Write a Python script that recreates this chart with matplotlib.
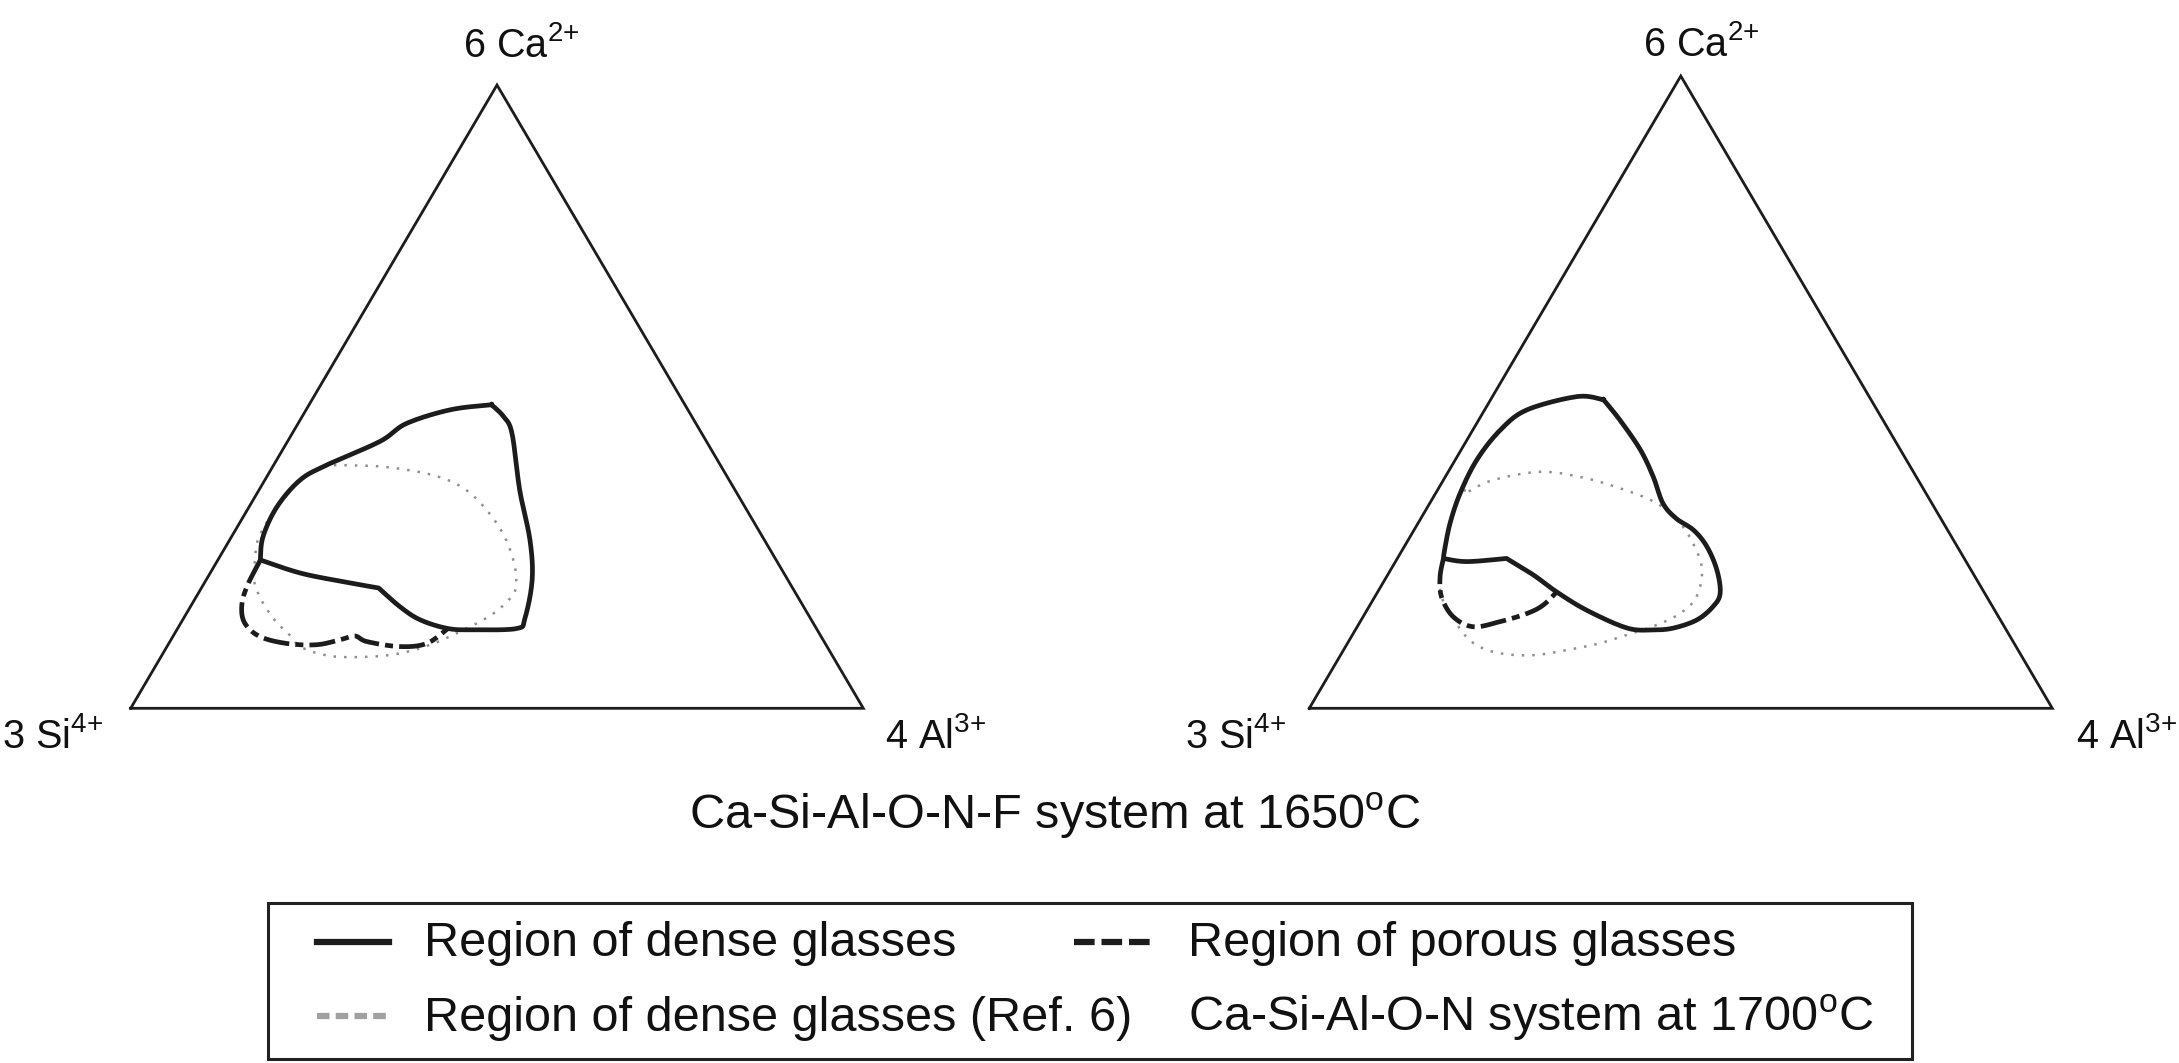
import numpy as np
import matplotlib
matplotlib.use("Agg")
import matplotlib.pyplot as plt
from matplotlib.patches import Rectangle

plt.rcParams['font.family'] = 'Liberation Sans'
plt.rcParams['mathtext.fontset'] = 'custom'
plt.rcParams['mathtext.rm'] = 'Liberation Sans'
plt.rcParams['mathtext.it'] = 'Liberation Sans:italic'
plt.rcParams['mathtext.bf'] = 'Liberation Sans:bold'

# compositions in equivalent % : Ca and Al (Si is the remainder)
# --- Ca-Si-Al-O-N-F system at 1650 C ---
f_dense_ca = [48.7, 47.9, 45.7, 42.8, 39.0, 36.6, 32.3, 27.5, 23.8, 21.7, 20.3, 19.3, 16.3,
              14.2, 12.8, 12.6, 12.8, 14.4, 20.6, 27.0, 35.0, 44.1, 46.8, 48.7]
f_dense_al = [24.9, 19.7, 14.8, 12.6, 7.2, 4.8, 3.8, 4.3, 5.8, 12.3, 18.9, 24.2, 28.6,
              32.4, 36.9, 40.5, 46.3, 46.6, 44.5, 41.0, 35.6, 30.0, 27.5, 24.9]
f_dense_corners = [0, 8, 11, 23]

f_porous_ca = [23.8, 19.5, 16.3, 13.6, 11.5, 10.4, 10.2, 11.0, 11.6, 10.7, 9.9, 10.4, 12.8]
f_porous_al = [5.8, 6.1, 7.0, 8.8, 11.9, 16.1, 20.3, 23.1, 24.8, 26.9, 31.8, 35.2, 36.9]

f_ref_ca = [39.0, 39.0, 38.7, 37.4, 35.3, 31.8, 27.5, 22.7, 19.0, 17.1, 15.2, 13.1, 10.2, 8.6,
            8.2, 8.6, 9.9, 12.0, 13.4, 15.2, 16.8, 19.0, 21.1, 23.5, 27.3, 32.3, 36.6, 39.0]
f_ref_al = [6.8, 10.0, 15.6, 22.6, 27.8, 32.7, 37.3, 41.1, 43.0, 42.8, 41.9, 39.8, 35.8, 31.4,
            25.8, 22.0, 18.2, 15.5, 13.5, 11.4, 9.7, 7.7, 6.2, 5.2, 3.8, 3.8, 4.8, 6.8]

# --- Ca-Si-Al-O-N system at 1700 C ---
n_dense_ca = [48.8, 49.3, 47.2, 44.0, 39.3, 34.0, 29.3, 25.0, 23.7, 23.2, 23.7, 21.1, 18.4, 15.5,
              12.7, 12.4, 12.7, 14.0, 16.1, 18.2, 21.9, 25.6, 28.2, 30.0, 32.4, 36.6, 40.9, 45.6, 48.8]
n_dense_al = [15.2, 11.4, 5.7, 3.7, 2.9, 3.3, 4.3, 5.7, 6.2, 9.6, 14.7, 19.6, 24.1, 29.6,
              36.4, 40.1, 42.7, 45.2, 46.3, 46.2, 43.9, 40.7, 37.6, 34.4, 31.4, 28.0, 24.1, 19.0, 15.2]
n_dense_corners = [0, 8, 10, 28]

n_porous_ca = [23.7, 20.8, 17.6, 14.5, 12.9, 13.7, 15.0, 16.3, 18.4]
n_porous_al = [6.2, 7.2, 9.0, 12.1, 15.6, 18.8, 21.8, 23.3, 24.1]

n_ref_ca = [34.3, 36.1, 37.4, 36.6, 35.0, 32.7, 29.8, 26.1, 21.9, 17.6, 15.0, 13.2, 11.6, 10.3,
            9.2, 8.4, 8.7, 10.0, 12.1, 14.5, 17.6, 20.8, 23.7, 25.0, 29.3, 34.0, 34.3]
n_ref_al = [4.3, 6.7, 12.3, 18.1, 23.8, 30.0, 34.6, 38.6, 41.9, 43.3, 42.4, 40.2, 36.9, 34.0,
            30.0, 25.9, 21.3, 17.5, 14.5, 12.1, 9.0, 7.2, 6.2, 5.7, 4.3, 3.3, 4.3]

# triangle corners (Si, Al, Ca) and their labels
corner_ca = [0, 0, 100, 0]
corner_al = [0, 100, 0, 0]
corner_labels = ['3 Si$^{4{+}}$', '4 Al$^{3{+}}$', '6 Ca$^{2{+}}$']

H = np.sqrt(3) / 2
BLACK = '#1c1c1c'
GREY = '#8f8f8f'


def project(ca, al):
    ca = np.asarray(ca) / 100.0
    al = np.asarray(al) / 100.0
    return al + ca / 2, ca * H


def spline(x, y, n=12):
    # catmull-rom drawing through the read points (just for a smooth pen line)
    P = np.column_stack([x, y])
    P = np.vstack([P[0], P, P[-1]])
    t = np.linspace(0, 1, n, endpoint=False)[:, None]
    out = []
    for i in range(1, len(P) - 2):
        p0, p1, p2, p3 = P[i - 1], P[i], P[i + 1], P[i + 2]
        out.append(0.5 * (2 * p1 + (p2 - p0) * t + (2 * p0 - 5 * p1 + 4 * p2 - p3) * t ** 2
                          + (3 * p1 - p0 - 3 * p2 + p3) * t ** 3))
    out.append(P[-2][None])
    pts = np.vstack(out)
    return pts[:, 0], pts[:, 1]


def smooth_curve(ca, al, corners=None):
    x, y = project(ca, al)
    if corners is None:
        corners = [0, len(x) - 1]
    xs, ys = [], []
    for a, b in zip(corners[:-1], corners[1:]):
        sx, sy = spline(x[a:b + 1], y[a:b + 1])
        xs.append(sx)
        ys.append(sy)
    return np.concatenate(xs), np.concatenate(ys)


def ternary(ax, dense, porous, ref, label_pos):
    ax.set_xlim(0, 1)
    ax.set_ylim(0, H)
    ax.axis('off')

    x, y = project(corner_ca, corner_al)
    ax.plot(x, y, color=BLACK, lw=2.0, clip_on=False, solid_joinstyle='miter')

    x, y = smooth_curve(*ref)
    ax.plot(x, y, color=GREY, lw=1.8, dashes=(1.0, 3.2), clip_on=False, zorder=2)
    x, y = smooth_curve(*porous)
    ax.plot(x, y, color=BLACK, lw=3.4, dashes=(5.5, 1.3, 1.7, 1.3), clip_on=False, zorder=3)
    x, y = smooth_curve(*dense)
    ax.plot(x, y, color=BLACK, lw=3.4, clip_on=False, zorder=4, solid_joinstyle='round')

    for txt, (tx, ty) in zip(corner_labels, label_pos):
        ax.text(tx, ty * H, txt, fontsize=28.5, ha='left', va='baseline', color='#111111')


fig = plt.figure(figsize=(21.79, 10.63), dpi=100)

ax1 = fig.add_axes([130.7 / 2179, (1063 - 708.3) / 1063, 732.6 / 2179, 623.3 / 1063])
ternary(ax1, (f_dense_ca, f_dense_al, f_dense_corners), (f_porous_ca, f_porous_al),
        (f_ref_ca, f_ref_al), [(-0.176, -0.064), (1.030, -0.064), (0.454, 1.045)])

ax2 = fig.add_axes([1309.3 / 2179, (1063 - 708.3) / 1063, 743 / 2179, 632.3 / 1063])
ternary(ax2, (n_dense_ca, n_dense_al, n_dense_corners), (n_porous_ca, n_porous_al),
        (n_ref_ca, n_ref_al), [(-0.167, -0.063), (1.032, -0.063), (0.449, 1.031)])

fig.text(1055 / 2179, 1 - 829 / 1063, 'Ca-Si-Al-O-N-F system at 1650$^{\\mathrm{o}}$C',
         fontsize=35, ha='center', va='baseline', color='#111111')

# legend drawn by hand in pixel space
lg = fig.add_axes([0, 0, 1, 1])
lg.set_xlim(0, 2179)
lg.set_ylim(1063, 0)
lg.axis('off')
lg.add_patch(Rectangle((268, 903), 1644, 156, fill=False, lw=2.2, ec='#222222'))
lg.plot([317, 389], [942, 942], color=BLACK, lw=4.5)
lg.plot([1074, 1151], [942, 942], color=BLACK, lw=4.5, dashes=(3.3, 1.1))
lg.plot([317, 389], [1016, 1016], color='#a0a0a0', lw=4.5, dashes=(2.0, 1.0))
legend_texts = [(424, 956, 'Region of dense glasses'),
                (1188, 956, 'Region of porous glasses'),
                (424, 1031, 'Region of dense glasses (Ref. 6)'),
                (1188, 1031, 'Ca-Si-Al-O-N system at 1700$^{\\mathrm{o}}$C')]
for tx, ty, s in legend_texts:
    lg.text(tx, ty, s, fontsize=35, ha='left', va='baseline', color='#111111')

fig.savefig('out.png', dpi=100)
